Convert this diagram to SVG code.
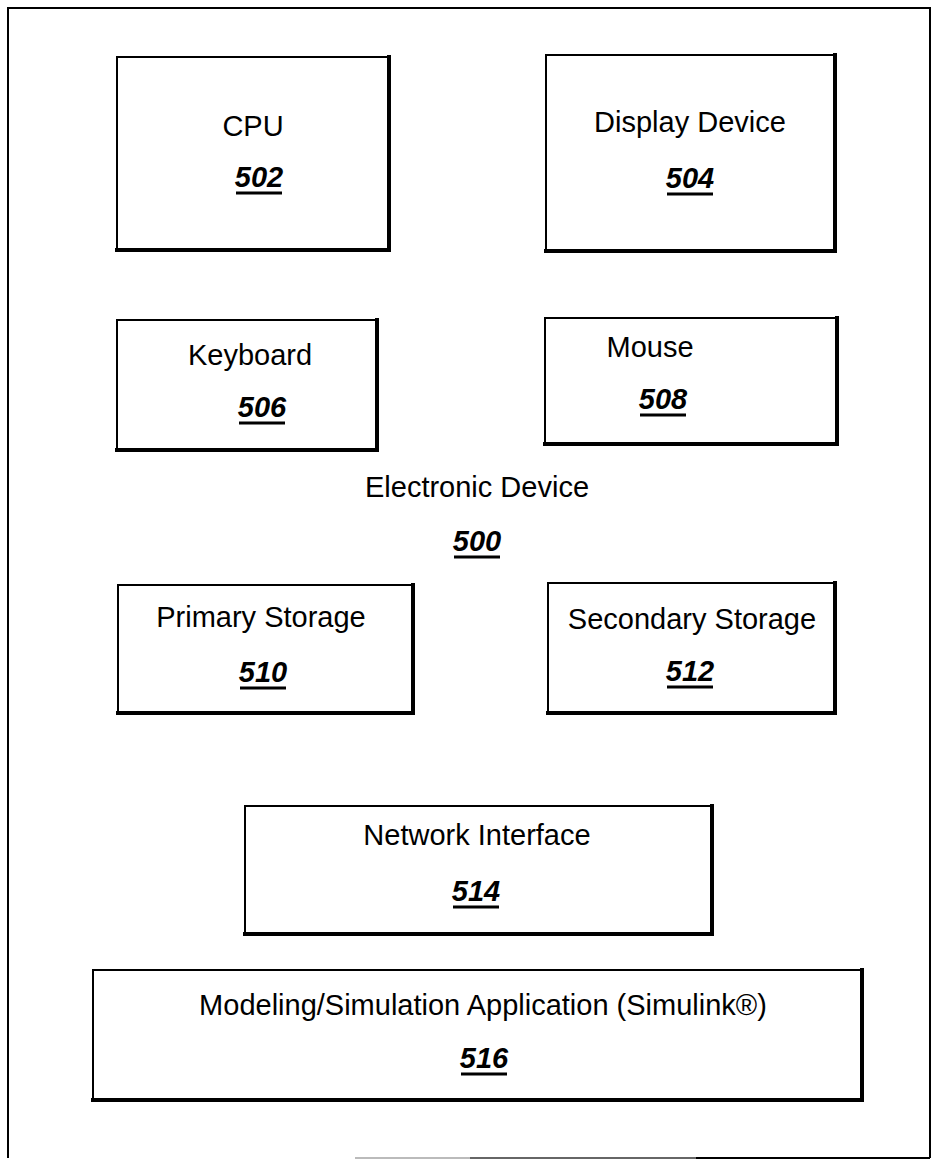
<svg xmlns="http://www.w3.org/2000/svg" width="932" height="1161" viewBox="0 0 932 1161">
<style>
.box{fill:#fff;stroke:#000;stroke-width:2}
.sh{fill:none;stroke:#000;stroke-width:4;stroke-linecap:square}
.lbl{font-family:"Liberation Sans",Arial,sans-serif;font-size:29px;fill:#000;text-anchor:middle}
.num{font-family:"Liberation Sans",Arial,sans-serif;font-size:29px;font-weight:bold;font-style:italic;fill:#000;text-anchor:middle}
.ul{stroke:#000;stroke-width:3}
.fr{fill:none;stroke:#000;stroke-width:2}
</style>
<g id="frame">
<polyline class="fr" points="8,1158 8,8 930,8 930,1158"/>
<line x1="355" y1="1158" x2="470" y2="1158" stroke="#bbb" stroke-width="2"/>
<line x1="470" y1="1158" x2="696" y2="1158" stroke="#666" stroke-width="2"/>
<line x1="696" y1="1158" x2="930" y2="1158" stroke="#000" stroke-width="2"/>
</g>
<g id="connectors"/>
<g id="n502">
<rect class="box" x="117" y="57" width="272" height="193"/>
<polyline class="sh" points="117,250 389,250 389,57"/>
<text class="lbl" x="253" y="136">CPU</text>
<text class="num" x="259" y="187">502</text>
<line class="ul" x1="236" y1="193" x2="282" y2="193"/>
</g>
<g id="n504">
<rect class="box" x="546" y="55" width="289" height="196"/>
<polyline class="sh" points="546,251 835,251 835,55"/>
<text class="lbl" x="690" y="132">Display Device</text>
<text class="num" x="690" y="188">504</text>
<line class="ul" x1="667" y1="194" x2="713" y2="194"/>
</g>
<g id="n506">
<rect class="box" x="117" y="320" width="260" height="130"/>
<polyline class="sh" points="117,450 377,450 377,320"/>
<text class="lbl" x="250" y="365">Keyboard</text>
<text class="num" x="262" y="417">506</text>
<line class="ul" x1="239" y1="423" x2="285" y2="423"/>
</g>
<g id="n508">
<rect class="box" x="545" y="318" width="292" height="126"/>
<polyline class="sh" points="545,444 837,444 837,318"/>
<text class="lbl" x="650" y="357">Mouse</text>
<text class="num" x="663" y="409">508</text>
<line class="ul" x1="640" y1="415" x2="686" y2="415"/>
</g>
<g id="n500">
<text class="lbl" x="477" y="497">Electronic Device</text>
<text class="num" x="477" y="551">500</text>
<line class="ul" x1="454" y1="557" x2="500" y2="557"/>
</g>
<g id="n510">
<rect class="box" x="118" y="585" width="295" height="128"/>
<polyline class="sh" points="118,713 413,713 413,585"/>
<text class="lbl" x="261" y="627">Primary Storage</text>
<text class="num" x="263" y="682">510</text>
<line class="ul" x1="240" y1="688" x2="286" y2="688"/>
</g>
<g id="n512">
<rect class="box" x="548" y="583" width="287" height="130"/>
<polyline class="sh" points="548,713 835,713 835,583"/>
<text class="lbl" x="692" y="629">Secondary Storage</text>
<text class="num" x="690" y="681">512</text>
<line class="ul" x1="667" y1="687" x2="713" y2="687"/>
</g>
<g id="n514">
<rect class="box" x="245" y="806" width="467" height="128"/>
<polyline class="sh" points="245,934 712,934 712,806"/>
<text class="lbl" x="477" y="845">Network Interface</text>
<text class="num" x="476" y="901">514</text>
<line class="ul" x1="453" y1="907" x2="499" y2="907"/>
</g>
<g id="n516">
<rect class="box" x="93" y="970" width="769" height="130"/>
<polyline class="sh" points="93,1100 862,1100 862,970"/>
<text class="lbl" x="483" y="1015">Modeling/Simulation Application (Simulink®)</text>
<text class="num" x="484" y="1068">516</text>
<line class="ul" x1="461" y1="1074" x2="507" y2="1074"/>
</g>
</svg>
